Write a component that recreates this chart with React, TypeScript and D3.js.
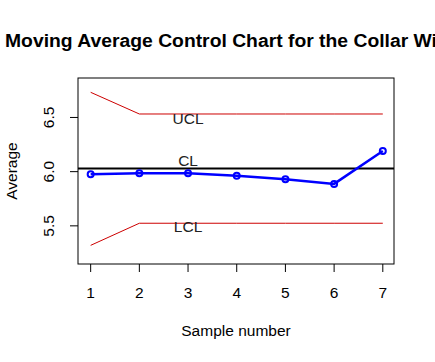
import * as d3 from 'd3';

// sample numbers and moving averages
const samples = [1, 2, 3, 4, 5, 6, 7];
const averages = [5.976, 5.985, 5.985, 5.963, 5.93, 5.887, 6.19];
const ucl = [6.732, 6.532, 6.532, 6.532, 6.532, 6.532, 6.532];
const lcl = [5.32, 5.524, 5.524, 5.524, 5.524, 5.524, 5.524];
const centerLine = 6.028;
const xTicks = [1, 2, 3, 4, 5, 6, 7];
const yTicks = [5.5, 6.0, 6.5];
const limitLabels = [
  { text: 'UCL', value: 6.48 },
  { text: 'CL', value: 6.09 },
  { text: 'LCL', value: 5.48 },
];

const W = 435;
const H = 362;
const box = { left: 78, right: 394, top: 78, bottom: 264 };
const font = '"Liberation Sans", Arial, sans-serif';

export default function App() {
  const x = d3.scaleLinear().domain([0.74, 7.23]).range([box.left, box.right]);
  const y = d3.scaleLinear().domain([5.148, 6.864]).range([box.bottom, box.top]);

  const path = (vals: number[]) =>
    d3.line<number>()
      .x((_, i) => x(samples[i]))
      .y(d => y(d))(vals) || '';

  return (
    <svg width={W} height={H} style={{ position: 'absolute', left: 0, top: 0, background: '#fff' }}>
      <text x={(box.left + box.right) / 2} y={46.5} textAnchor="middle" fontFamily={font}
        fontWeight="bold" fontSize={17.5} textLength={462} lengthAdjust="spacingAndGlyphs" fill="#000">
        Moving Average Control Chart for the Collar Width
      </text>

      {/* control limits */}
      <path d={path(ucl)} fill="none" stroke="#cd0000" strokeWidth={1} />
      <path d={path(lcl)} fill="none" stroke="#cd0000" strokeWidth={1} />
      <line x1={box.left} x2={box.right} y1={y(centerLine)} y2={y(centerLine)} stroke="#000" strokeWidth={2} />

      {limitLabels.map(l => (
        <text key={l.text} x={x(3)} y={y(l.value)} textAnchor="middle" dominantBaseline="middle"
          fontFamily={font} fontSize={15.5} fill="#222">{l.text}</text>
      ))}

      {/* moving averages */}
      <path d={path(averages)} fill="none" stroke="#0000ff" strokeWidth={2.5} />
      {averages.map((v, i) => (
        <circle key={i} cx={x(samples[i])} cy={y(v)} r={3} fill="none" stroke="#0000ff" strokeWidth={2} />
      ))}

      <rect x={box.left} y={box.top} width={box.right - box.left} height={box.bottom - box.top}
        fill="none" stroke="#000" strokeWidth={1} />

      {/* x axis */}
      {xTicks.map(t => (
        <g key={t}>
          <line x1={x(t)} x2={x(t)} y1={box.bottom} y2={box.bottom + 8} stroke="#000" />
          <text x={x(t)} y={294} textAnchor="middle" dominantBaseline="middle" fontFamily={font}
            fontSize={15.5} fill="#000">{t}</text>
        </g>
      ))}
      <text x={(box.left + box.right) / 2} y={332} textAnchor="middle" dominantBaseline="middle"
        fontFamily={font} fontSize={15.5} fill="#000">Sample number</text>

      {/* y axis */}
      {yTicks.map(t => (
        <g key={t}>
          <line x1={box.left - 8} x2={box.left} y1={y(t)} y2={y(t)} stroke="#000" />
          <text transform={`translate(50,${y(t)}) rotate(-90)`} textAnchor="middle" dominantBaseline="middle"
            fontFamily={font} fontSize={15.5} fill="#000">{t.toFixed(1)}</text>
        </g>
      ))}
      <text transform={`translate(13,${(box.top + box.bottom) / 2}) rotate(-90)`} textAnchor="middle"
        dominantBaseline="middle" fontFamily={font} fontSize={15.5} fill="#000">Average</text>
    </svg>
  );
}
